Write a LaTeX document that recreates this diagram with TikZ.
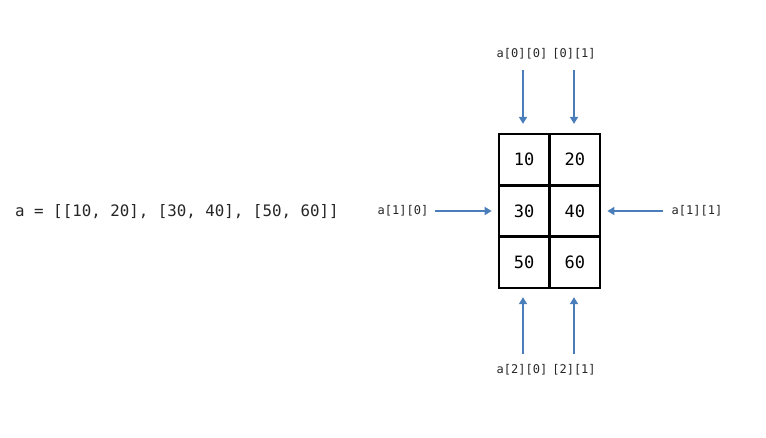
\documentclass[tikz,border=0pt]{standalone}
\usepackage{fontspec}
\setmonofont{DejaVu Sans Mono}
\usetikzlibrary{arrows.meta}
\definecolor{arrowblue}{HTML}{4A7EBB}
\tikzset{
  cell/.style={draw=black, line width=2.4pt, minimum width=50.7pt, minimum height=51.3pt, inner sep=0pt, font=\ttfamily\fontsize{17}{19}\selectfont},
  lbl/.style={inner sep=0pt, font=\ttfamily\fontsize{12}{14}\selectfont, text=black!85},
  arr/.style={draw=arrowblue, line width=2.2pt, -{Triangle[length=7pt,width=8pt]}},
}
\begin{document}
\begin{tikzpicture}[x=1pt,y=-1pt]
\useasboundingbox (0,0) rectangle (766,437);
% code line
\node[anchor=west, inner sep=0pt, font=\ttfamily\fontsize{15.8}{18}\selectfont, text=black!85] (code) at (15,212) {a = [[10, 20], [30, 40], [50, 60]]};
% cells
\node[cell] (c00) at (524.2,159.7) {10};
\node[cell] (c01) at (574.8,159.7) {20};
\node[cell] (c10) at (524.2,211) {30};
\node[cell] (c11) at (574.8,211) {40};
\node[cell] (c20) at (524.2,262.3) {50};
\node[cell] (c21) at (574.8,262.3) {60};
% labels
\node[lbl] (l00) at (522,54) {a[0][0]};
\node[lbl] (l01) at (574,54) {[0][1]};
\node[lbl] (l10) at (403,211) {a[1][0]};
\node[lbl] (l11) at (697,211) {a[1][1]};
\node[lbl] (l20) at (522,370) {a[2][0]};
\node[lbl] (l21) at (574,370) {[2][1]};
% arrow start points
\coordinate (s00) at (523,70);
\coordinate (s01) at (574,70);
\coordinate (s10) at (435,211);
\coordinate (s11) at (663,211);
\coordinate (s20) at (523,354);
\coordinate (s21) at (574,354);
% arrows
\draw[arr, shorten >=9pt] (s00) -- (s00 |- c00.north);
\draw[arr, shorten >=9pt] (s01) -- (s01 |- c01.north);
\draw[arr, shorten >=6pt] (s10) -- (c10.west);
\draw[arr, shorten >=6pt] (s11) -- (c11.east);
\draw[arr, shorten >=8pt] (s20) -- (s20 |- c20.south);
\draw[arr, shorten >=8pt] (s21) -- (s21 |- c21.south);
\end{tikzpicture}
\end{document}
